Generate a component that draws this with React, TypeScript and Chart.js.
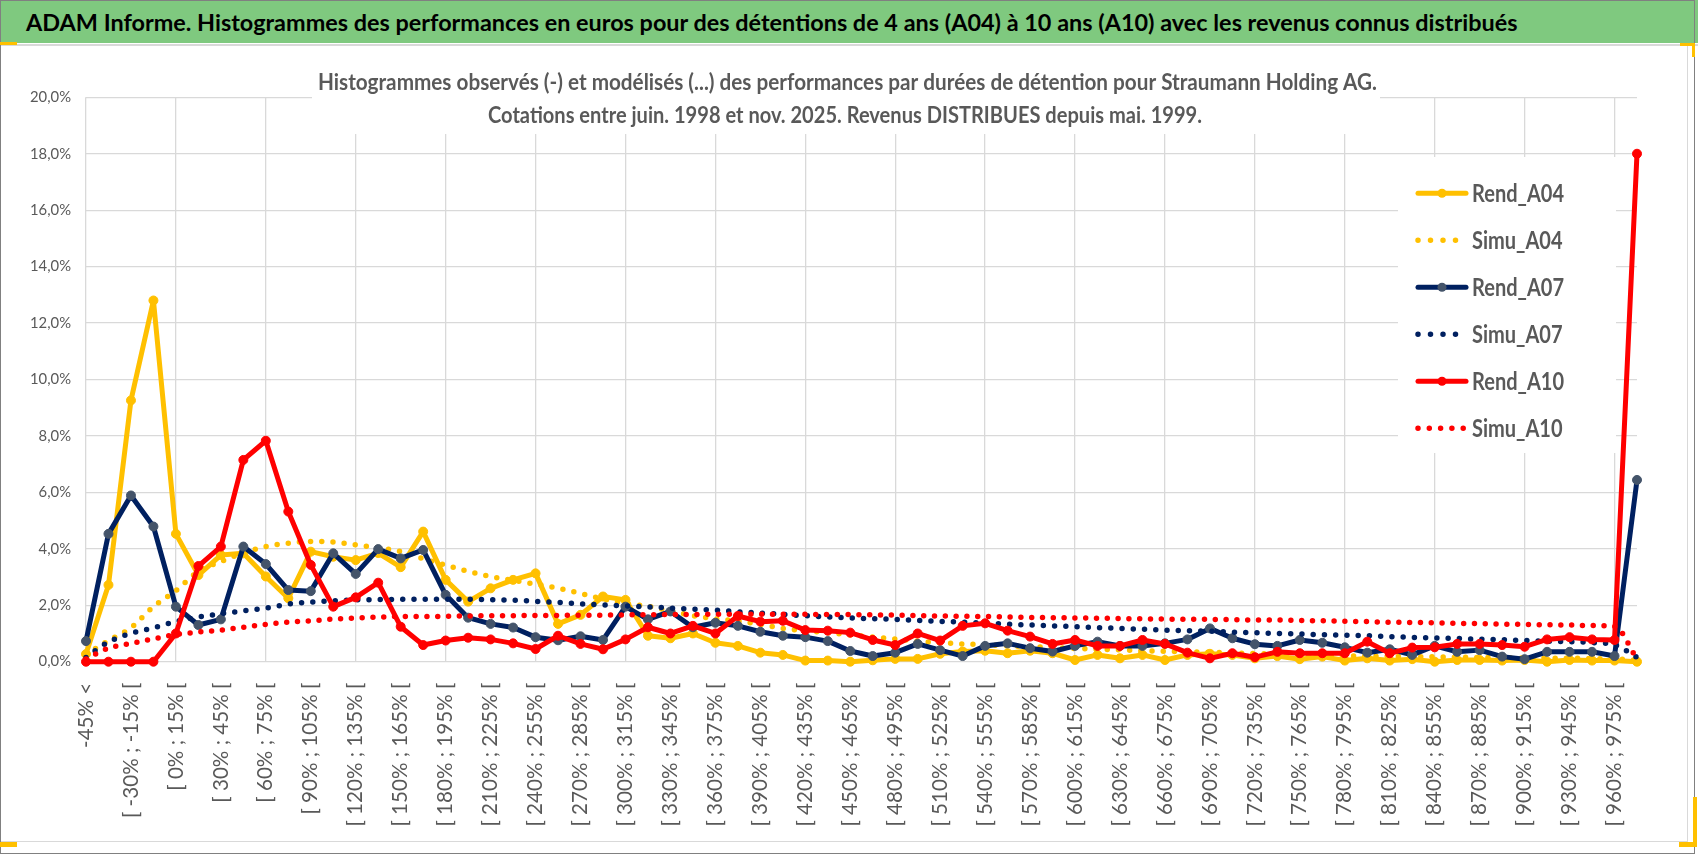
import React, { useEffect, useMemo, useRef } from 'react';
import { Chart, registerables } from 'chart.js';

Chart.register(...registerables);

// ---------------- DATA ----------------
const CATEGORIES = [
  '-45% <', '[ -45% ; -30% [', '[ -30% ; -15% [', '[ -15% ; 0% [',
  '[ 0% ; 15% [', '[ 15% ; 30% [', '[ 30% ; 45% [', '[ 45% ; 60% [', '[ 60% ; 75% [', '[ 75% ; 90% [',
  '[ 90% ; 105% [', '[ 105% ; 120% [', '[ 120% ; 135% [', '[ 135% ; 150% [', '[ 150% ; 165% [', '[ 165% ; 180% [',
  '[ 180% ; 195% [', '[ 195% ; 210% [', '[ 210% ; 225% [', '[ 225% ; 240% [', '[ 240% ; 255% [', '[ 255% ; 270% [',
  '[ 270% ; 285% [', '[ 285% ; 300% [', '[ 300% ; 315% [', '[ 315% ; 330% [', '[ 330% ; 345% [', '[ 345% ; 360% [',
  '[ 360% ; 375% [', '[ 375% ; 390% [', '[ 390% ; 405% [', '[ 405% ; 420% [', '[ 420% ; 435% [', '[ 435% ; 450% [',
  '[ 450% ; 465% [', '[ 465% ; 480% [', '[ 480% ; 495% [', '[ 495% ; 510% [', '[ 510% ; 525% [', '[ 525% ; 540% [',
  '[ 540% ; 555% [', '[ 555% ; 570% [', '[ 570% ; 585% [', '[ 585% ; 600% [', '[ 600% ; 615% [', '[ 615% ; 630% [',
  '[ 630% ; 645% [', '[ 645% ; 660% [', '[ 660% ; 675% [', '[ 675% ; 690% [', '[ 690% ; 705% [', '[ 705% ; 720% [',
  '[ 720% ; 735% [', '[ 735% ; 750% [', '[ 750% ; 765% [', '[ 765% ; 780% [', '[ 780% ; 795% [', '[ 795% ; 810% [',
  '[ 810% ; 825% [', '[ 825% ; 840% [', '[ 840% ; 855% [', '[ 855% ; 870% [', '[ 870% ; 885% [', '[ 885% ; 900% [',
  '[ 900% ; 915% [', '[ 915% ; 930% [', '[ 930% ; 945% [', '[ 945% ; 960% [', '[ 960% ; 975% [', '975% >',
];

const REND_A04 = [
  0.27, 2.72, 9.26, 12.8, 4.53, 3.07, 3.78, 3.84, 3.02, 2.25,
  3.9, 3.72, 3.6, 3.85, 3.35, 4.61, 2.9, 2.13, 2.6, 2.9,
  3.13, 1.34, 1.66, 2.31, 2.19, 0.92, 0.83, 1.0, 0.67, 0.56,
  0.32, 0.24, 0.04, 0.04, 0.0, 0.05, 0.1, 0.1, 0.28, 0.36,
  0.39, 0.3, 0.39, 0.3, 0.06, 0.24, 0.12, 0.24, 0.06, 0.24,
  0.28, 0.24, 0.12, 0.2, 0.09, 0.18, 0.04, 0.12, 0.04, 0.09,
  0.0, 0.06, 0.06, 0.04, 0.06, 0.0, 0.06, 0.04, 0.04, 0.0,
];

const SIMU_A04 = [
  0.25, 0.75, 1.2, 1.95, 2.52, 3.2, 3.55, 3.85, 4.08, 4.2,
  4.26, 4.24, 4.14, 4.04, 3.9, 3.65, 3.42, 3.2, 3.02, 2.88,
  2.75, 2.6, 2.42, 2.22, 2.06, 1.96, 1.8, 1.63, 1.52, 1.44,
  1.32, 1.18, 1.1, 1.03, 0.95, 0.87, 0.8, 0.73, 0.67, 0.63,
  0.6, 0.56, 0.53, 0.5, 0.47, 0.44, 0.42, 0.39, 0.37, 0.35,
  0.33, 0.31, 0.29, 0.27, 0.25, 0.23, 0.21, 0.2, 0.19, 0.18,
  0.17, 0.16, 0.15, 0.14, 0.13, 0.12, 0.12, 0.11, 0.1, 0.05,
];

const REND_A07 = [
  0.73, 4.53, 5.89, 4.79, 1.95, 1.3, 1.5, 4.08, 3.46, 2.54,
  2.5, 3.84, 3.11, 3.99, 3.66, 3.96, 2.37, 1.56, 1.34, 1.21,
  0.87, 0.76, 0.9, 0.77, 1.95, 1.5, 1.78, 1.22, 1.38, 1.27,
  1.06, 0.92, 0.87, 0.73, 0.38, 0.2, 0.32, 0.63, 0.41, 0.2,
  0.56, 0.65, 0.48, 0.36, 0.56, 0.71, 0.56, 0.56, 0.65, 0.79,
  1.18, 0.83, 0.62, 0.56, 0.77, 0.67, 0.51, 0.32, 0.44, 0.24,
  0.56, 0.35, 0.41, 0.18, 0.09, 0.35, 0.35, 0.35, 0.2, 6.44,
];

const SIMU_A07 = [
  0.15, 0.7, 1.0, 1.2, 1.42, 1.58, 1.7, 1.8, 1.9, 2.04,
  2.11, 2.16, 2.19, 2.2, 2.21, 2.21, 2.21, 2.21, 2.2, 2.18,
  2.14, 2.1, 2.05, 2.01, 1.98, 1.94, 1.9, 1.86, 1.83, 1.77,
  1.72, 1.68, 1.63, 1.59, 1.55, 1.52, 1.5, 1.46, 1.43, 1.4,
  1.37, 1.33, 1.3, 1.27, 1.24, 1.21, 1.18, 1.15, 1.12, 1.1,
  1.08, 1.05, 1.03, 1.0, 0.98, 0.96, 0.94, 0.92, 0.89, 0.86,
  0.84, 0.82, 0.8, 0.78, 0.75, 0.73, 0.71, 0.68, 0.6, 0.15,
];

const REND_A10 = [
  0, 0, 0, 0, 1.0, 3.39, 4.08, 7.15, 7.83, 5.32,
  3.43, 1.95, 2.28, 2.8, 1.24, 0.59, 0.75, 0.85, 0.79, 0.65,
  0.45, 0.92, 0.63, 0.44, 0.79, 1.22, 1.0, 1.27, 1.0, 1.62,
  1.42, 1.45, 1.12, 1.1, 1.03, 0.77, 0.59, 1.0, 0.75, 1.27,
  1.36, 1.1, 0.89, 0.63, 0.77, 0.56, 0.56, 0.77, 0.63, 0.32,
  0.12, 0.3, 0.16, 0.35, 0.3, 0.3, 0.3, 0.71, 0.3, 0.5,
  0.51, 0.63, 0.63, 0.59, 0.53, 0.79, 0.87, 0.79, 0.77, 18.0,
];

const SIMU_A10 = [
  0.1, 0.48, 0.65, 0.81, 0.96, 1.05, 1.12, 1.22, 1.32, 1.4,
  1.45, 1.51, 1.55, 1.58, 1.6, 1.6, 1.61, 1.62, 1.63, 1.63,
  1.64, 1.64, 1.65, 1.65, 1.66, 1.66, 1.67, 1.67, 1.68, 1.68,
  1.68, 1.68, 1.68, 1.67, 1.67, 1.66, 1.65, 1.63, 1.62, 1.61,
  1.6, 1.59, 1.57, 1.56, 1.55, 1.54, 1.53, 1.52, 1.51, 1.5,
  1.5, 1.49, 1.48, 1.48, 1.46, 1.45, 1.43, 1.42, 1.4, 1.39,
  1.38, 1.36, 1.35, 1.33, 1.32, 1.31, 1.3, 1.28, 1.25, 0.1,
];

const SERIES_NAMES = ['Rend_A04', 'Simu_A04', 'Rend_A07', 'Simu_A07', 'Rend_A10', 'Simu_A10'];
const Y_MIN = 0;
const Y_MAX = 20;
const Y_STEP = 2;

const MAIN_TITLE =
  'ADAM Informe. Histogrammes des performances en euros pour des détentions de 4 ans (A04) à 10 ans (A10) avec les revenus connus distribués';
const SUBTITLE_LINES = [
  'Histogrammes observés (-) et modélisés (...) des performances par durées de détention pour Straumann Holding AG.',
  'Cotations entre juin. 1998 et nov. 2025. Revenus DISTRIBUES depuis mai. 1999.',
];

// ---------------- STYLE ----------------
const FAMILY = 'Lato, "Open Sans", "DejaVu Sans", sans-serif';
const GOLD = '#FFC000';
const NAVY = '#002060';
const NAVY_MARK = '#44546A';
const RED = '#FF0000';
const GRID = '#d9d9d9';
const TEXT_GRAY = '#595959';

const W = 1698;
const H = 854;
const CANVAS_TOP = 45;
const CANVAS_H = H - CANVAS_TOP;

function measure(text: string, font: string): number {
  const c = document.createElement('canvas').getContext('2d') as CanvasRenderingContext2D;
  c.font = font;
  return c.measureText(text).width;
}

function drawFitted(
  ctx: CanvasRenderingContext2D,
  text: string,
  x: number,
  capMid: number,
  width: number,
  size: number,
  align: 'center' | 'left',
  color: string,
  forcedScale?: number,
) {
  ctx.save();
  ctx.font = `bold ${size}px ${FAMILY}`;
  const w = ctx.measureText(text).width;
  const s = forcedScale ?? width / w;
  ctx.translate(x, capMid + size * 0.36);
  ctx.scale(s, 1);
  ctx.textAlign = align;
  ctx.textBaseline = 'alphabetic';
  ctx.fillStyle = color;
  ctx.fillText(text, 0, 0);
  ctx.restore();
}

const overlayPlugin = {
  id: 'overlayTexts',
  afterDraw(chart: any) {
    const ctx: CanvasRenderingContext2D = chart.ctx;
    // subtitle box (over the plot)
    ctx.save();
    ctx.fillStyle = '#ffffff';
    ctx.fillRect(312, 8, 1068, 81);
    ctx.restore();
    drawFitted(ctx, SUBTITLE_LINES[0], 847.5, 36.7, 1059, 23, 'center', TEXT_GRAY);
    drawFitted(ctx, SUBTITLE_LINES[1], 845, 70, 714, 23, 'center', TEXT_GRAY);

    // legend box
    ctx.save();
    ctx.fillStyle = '#ffffff';
    ctx.fillRect(1398, 112, 218, 296);
    ctx.restore();

    const legSize = 24.5;
    ctx.save();
    ctx.font = `bold ${legSize}px ${FAMILY}`;
    const legScale = 92 / ctx.measureText('Rend_A04').width;
    ctx.restore();

    const ds = chart.data.datasets;
    SERIES_NAMES.forEach((name, i) => {
      const d = ds[i];
      const cy = 148.3 + i * 47;
      ctx.save();
      ctx.strokeStyle = d.borderColor;
      if (name.startsWith('Rend')) {
        ctx.lineWidth = 5;
        ctx.lineCap = 'round';
        ctx.beginPath();
        ctx.moveTo(1418, cy);
        ctx.lineTo(1466, cy);
        ctx.stroke();
        ctx.fillStyle = d.pointBackgroundColor;
        ctx.beginPath();
        ctx.arc(1442, cy, 4.5, 0, Math.PI * 2);
        ctx.fill();
      } else {
        ctx.lineWidth = 5.5;
        ctx.lineCap = 'round';
        const gap = name === 'Simu_A10' ? 11.3 : 12.5;
        const end = name === 'Simu_A10' ? 1464 : 1457;
        ctx.setLineDash([0, gap]);
        ctx.beginPath();
        ctx.moveTo(1418, cy);
        ctx.lineTo(end, cy);
        ctx.stroke();
      }
      ctx.restore();
      drawFitted(ctx, name, 1472, cy, 0, legSize, 'left', TEXT_GRAY, legScale);
    });
  },
};

export default function App() {
  const canvasRef = useRef<HTMLCanvasElement | null>(null);

  const titleScale = useMemo(() => 1492 / measure(MAIN_TITLE, `bold 22px ${FAMILY}`), []);

  useEffect(() => {
    document.body.style.margin = '0';
    document.body.style.overflow = 'hidden';
    const canvas = canvasRef.current;
    if (!canvas) return;

    const xTickSize = (20 * 144) / measure('[ 960% ; 975% [', `20px ${FAMILY}`);
    const yTickSize = (20 * 41) / measure('20,0%', `20px ${FAMILY}`);

    const rend = (label: string, data: number[], color: string, mark: string, order: number) => ({
      label,
      data,
      borderColor: color,
      backgroundColor: color,
      borderWidth: 5,
      borderJoinStyle: 'round',
      borderCapStyle: 'round',
      pointRadius: 4.5,
      pointBackgroundColor: mark,
      pointBorderColor: mark,
      pointBorderWidth: 1,
      tension: 0,
      order,
      clip: false,
    });
    const simu = (label: string, data: number[], color: string, gap: number, order: number) => ({
      label,
      data,
      borderColor: color,
      backgroundColor: color,
      borderWidth: 5.5,
      borderDash: [0, gap],
      borderCapStyle: 'round',
      pointRadius: 0,
      cubicInterpolationMode: 'monotone',
      order,
      clip: false,
    });

    const chart = new Chart(canvas, {
      type: 'line',
      data: {
        labels: CATEGORIES,
        datasets: [
          rend(SERIES_NAMES[0], REND_A04, GOLD, GOLD, 6),
          simu(SERIES_NAMES[1], SIMU_A04, GOLD, 11.2, 5),
          rend(SERIES_NAMES[2], REND_A07, NAVY, NAVY_MARK, 4),
          simu(SERIES_NAMES[3], SIMU_A07, NAVY, 11.25, 3),
          rend(SERIES_NAMES[4], REND_A10, RED, RED, 2),
          simu(SERIES_NAMES[5], SIMU_A10, RED, 10.8, 1),
        ] as any,
      },
      options: {
        responsive: false,
        animation: false,
        devicePixelRatio: window.devicePixelRatio || 1,
        layout: { padding: { left: 0, right: 61, top: 52.3, bottom: 0 } },
        plugins: {
          legend: { display: false },
          title: { display: false },
          tooltip: { enabled: false },
        },
        events: [],
        scales: {
          x: {
            type: 'category',
            offset: false,
            border: { display: false },
            grid: {
              color: (c: any) => (c.index % 4 === 0 ? GRID : 'rgba(0,0,0,0)'),
              lineWidth: 1.3,
              drawTicks: false,
            },
            ticks: {
              autoSkip: false,
              minRotation: 90,
              maxRotation: 90,
              padding: 21,
              color: TEXT_GRAY,
              font: { family: FAMILY, size: xTickSize },
              callback: (_v: any, i: number) => (i % 2 === 0 ? CATEGORIES[i] : ''),
            },
            afterFit: (s: any) => {
              s.height = CANVAS_H - (661.7 - CANVAS_TOP);
            },
          },
          y: {
            min: Y_MIN,
            max: Y_MAX,
            border: { display: false },
            grid: { color: GRID, lineWidth: 1.3, drawTicks: false },
            ticks: {
              stepSize: Y_STEP,
              padding: 15,
              color: TEXT_GRAY,
              font: { family: FAMILY, size: yTickSize },
              callback: (v: any) => Number(v).toFixed(1).replace('.', ',') + '%',
            },
            afterFit: (s: any) => {
              s.width = 86;
            },
          },
        },
      } as any,
      plugins: [overlayPlugin as any],
    });

    return () => {
      chart.destroy();
    };
  }, []);

  const abs = (s: React.CSSProperties): React.CSSProperties => ({ position: 'absolute', ...s });

  return (
    <div style={abs({ left: 0, top: 0, width: W, height: H, background: '#ffffff', overflow: 'hidden' })}>
      {/* green title bar */}
      <div style={abs({ left: 0, top: 0, width: W, height: 43, background: '#7fc97f' })} />
      <div
        style={abs({
          left: 26,
          top: 12,
          fontFamily: FAMILY,
          fontWeight: 700,
          fontSize: 22,
          lineHeight: '22px',
          whiteSpace: 'nowrap',
          color: '#000000',
          transform: `scaleX(${titleScale})`,
          transformOrigin: 'left center',
        })}
      >
        {MAIN_TITLE}
      </div>
      <div style={abs({ left: 0, top: 43.5, width: W, height: 2, background: GRID })} />

      {/* chart canvas */}
      <canvas
        ref={canvasRef}
        width={W}
        height={CANVAS_H}
        style={abs({ left: 0, top: CANVAS_TOP, width: W, height: CANVAS_H })}
      />

      {/* inner light frame */}
      <div style={abs({ left: 0, top: 840.5, width: 1688, height: 1.5, background: GRID })} />
      <div style={abs({ left: 1686.5, top: 45, width: 1.5, height: 797, background: GRID })} />

      {/* outer frame */}
      <div
        style={abs({
          left: 0,
          top: 0,
          width: 1695,
          height: 853.5,
          border: '1.5px solid #808080',
          boxSizing: 'border-box',
          pointerEvents: 'none',
        })}
      />

      {/* selection corner marks */}
      <div style={abs({ left: 0, top: 42, width: 17, height: 3, background: GOLD })} />
      <div style={abs({ left: 1680, top: 43, width: 15, height: 3, background: GOLD })} />
      <div style={abs({ left: 1692, top: 43, width: 3, height: 14, background: GOLD })} />
      <div style={abs({ left: 0, top: 842, width: 17, height: 5, background: GOLD })} />
      <div style={abs({ left: 1679, top: 842, width: 18, height: 5, background: GOLD })} />
      <div style={abs({ left: 1693, top: 797, width: 4, height: 50, background: GOLD })} />
    </div>
  );
}
